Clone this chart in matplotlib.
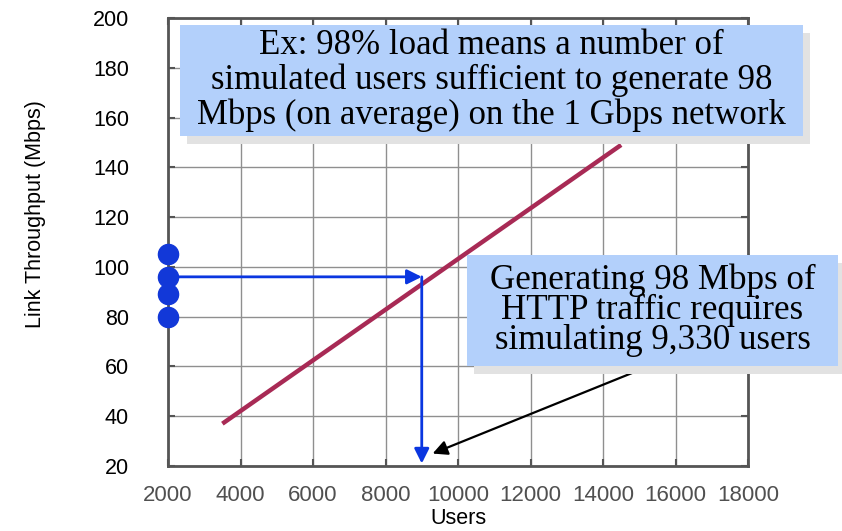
import numpy as np
import matplotlib
matplotlib.use('Agg')
import matplotlib.pyplot as plt
from matplotlib.patches import Rectangle

plt.rcParams['font.serif'] = ['Liberation Serif', 'DejaVu Serif']

# data
users = [3500, 14500]          # visible ends of the throughput line
throughput = [37, 149]
load_levels = [105, 96, 89, 80]  # blue dots on the y axis
target_tput = 96
target_users = 9000
note_tip = (9300, 25)
note_tail = (15250, 60)

xticks = np.arange(2000, 18001, 2000)
yticks = np.arange(20, 201, 20)

W, H = 842, 531
fig = plt.figure(figsize=(W/100, H/100), dpi=100)
ax = fig.add_axes([168/W, 1 - 466/H, (748-168)/W, (466-18)/H])

ax.set_xlim(2000, 18000)
ax.set_ylim(20, 200)
ax.set_xticks(xticks)
ax.set_yticks(yticks)
ax.grid(True, color='#8f8f8f', lw=1.0)
ax.set_axisbelow(True)
for s in ax.spines.values():
    s.set_color('#555555')
    s.set_linewidth(2.0)
ax.tick_params(direction='in', length=5, width=1.5, color='#555555',
               top=True, right=True)
ax.tick_params(axis='y', labelsize=15.5, pad=28, labelcolor='black')
ax.tick_params(axis='x', labelsize=16, pad=14, labelcolor='#505050')
for lab in ax.get_xticklabels() + ax.get_yticklabels():
    lab.set_family('Liberation Sans')

ax.plot(users, throughput, color='#a82a55', lw=3.2, solid_capstyle='butt')

# blue load dots and arrows
ax.plot([2000]*len(load_levels), load_levels, 'o', ms=14.5, color='#1238d8',
        clip_on=False, zorder=5)
blue = '#0a36e0'
ax.annotate('', xy=(target_users, target_tput), xytext=(2000, target_tput),
            arrowprops=dict(arrowstyle='-|>', color=blue, lw=2, mutation_scale=22,
                            shrinkA=0, shrinkB=0), annotation_clip=False)
ax.annotate('', xy=(target_users, 21), xytext=(target_users, target_tput),
            arrowprops=dict(arrowstyle='-|>', color=blue, lw=2, mutation_scale=22,
                            shrinkA=0, shrinkB=0), annotation_clip=False)
ax.annotate('', xy=note_tip, xytext=note_tail,
            arrowprops=dict(arrowstyle='-|>', color='black', lw=1.6, mutation_scale=22,
                            shrinkA=0, shrinkB=0), annotation_clip=False)

ax.set_xlabel('Users', family='Liberation Sans', fontsize=15.5, labelpad=1)
fig.text(36/W, 1 - 214/H, 'Link Throughput (Mbps)', rotation=90, ha='center',
         va='center', family='Liberation Sans', fontsize=15.5)


def callout(x0, y0, x1, y1, text, fs, ls):
    # pixel box with grey drop shadow, drawn on top of the axes
    fig.patches.append(Rectangle(((x0+7)/W, 1 - (y1+8)/H), (x1-x0)/W, (y1-y0)/H,
                                 transform=fig.transFigure, facecolor='#e2e2e2',
                                 edgecolor='none', zorder=2))
    fig.patches.append(Rectangle((x0/W, 1 - y1/H), (x1-x0)/W, (y1-y0)/H,
                                 transform=fig.transFigure, facecolor='#b3d0fb',
                                 edgecolor='none', zorder=3))
    fig.text((x0+x1)/2/W, 1 - (y0+y1)/2/H, text, ha='center', va='center',
             family='serif', fontsize=fs, linespacing=ls, zorder=4)


callout(180, 25, 803, 136,
        'Ex: 98% load means a number of\nsimulated users sufficient to generate 98\n'
        'Mbps (on average) on the 1 Gbps network', 25, 1.05)
callout(467, 255, 838, 366,
        'Generating 98 Mbps of\nHTTP traffic requires\nsimulating 9,330 users', 25.2, 0.88)

fig.savefig('out.png', dpi=100, facecolor='white')
